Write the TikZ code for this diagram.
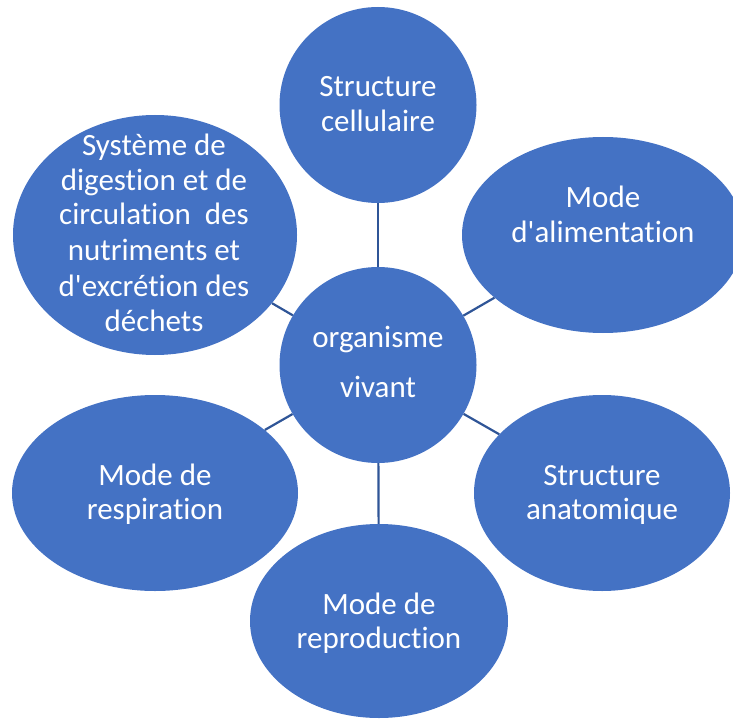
\documentclass[tikz,border=0pt]{standalone}
\usepackage{fontspec}
\setmainfont{Carlito}[Ligatures={NoCommon}]
\usetikzlibrary{shapes.geometric}
\definecolor{fillblue}{HTML}{4472C4}
\definecolor{lineblue}{HTML}{2F5597}
\tikzset{
  blob/.style={ellipse, fill=fillblue, draw=none, inner sep=0pt},
  txt/.style={anchor=base, text=white, inner sep=0pt, font=\fontsize{31}{35}\selectfont},
  link/.style={draw=lineblue, line width=2.2pt}
}
\begin{document}
\begin{tikzpicture}[x=1pt,y=-1pt]
\useasboundingbox (0,0) rectangle (733,719);
% shapes
\node[blob, minimum width=197pt, minimum height=196pt] (cell) at (378,105) {};
\node[blob, minimum width=282pt, minimum height=196pt] (alim) at (603,235) {};
\node[blob, minimum width=284pt, minimum height=240pt] (dige) at (155,235) {};
\node[blob, minimum width=197pt, minimum height=196pt] (org)  at (378,365) {};
\node[blob, minimum width=286pt, minimum height=196pt] (resp) at (155,493) {};
\node[blob, minimum width=256pt, minimum height=196pt] (anat) at (602,493) {};
\node[blob, minimum width=258pt, minimum height=194pt] (repr) at (379,621) {};
% connectors
\draw[link] (org) -- (cell);
\draw[link] (org) -- (alim);
\draw[link] (org) -- (dige);
\draw[link] (org) -- (resp);
\draw[link] (org) -- (anat);
\draw[link] (org) -- (repr);
% texts
\node[txt] (cell1) at (378,97) {Structure};
\node[txt] (cell2) at (378,132) {cellulaire};
\node[txt] (alim1) at (603,208) {Mode};
\node[txt] (alim2) at (603,243) {d\textquotesingle alimentation};
\node[txt] (dige1) at (154,156) {Système de};
\node[txt] (dige2) at (154,191) {digestion et de};
\node[txt] (dige3) at (154,225) {circulation\ \ des};
\node[txt] (dige4) at (154,261) {nutriments et};
\node[txt] (dige5) at (154,296) {d\textquotesingle excrétion des};
\node[txt] (dige6) at (154,331) {déchets};
\node[txt] (org1) at (378,347) {organisme};
\node[txt] (org2) at (378,397) {vivant};
\node[txt] (resp1) at (155,485) {Mode de};
\node[txt] (resp2) at (155,519) {respiration};
\node[txt] (anat1) at (602,485) {Structure};
\node[txt] (anat2) at (602,519) {anatomique};
\node[txt] (repr1) at (379,614) {Mode de};
\node[txt] (repr2) at (379,648) {reproduction};
\end{tikzpicture}
\end{document}
